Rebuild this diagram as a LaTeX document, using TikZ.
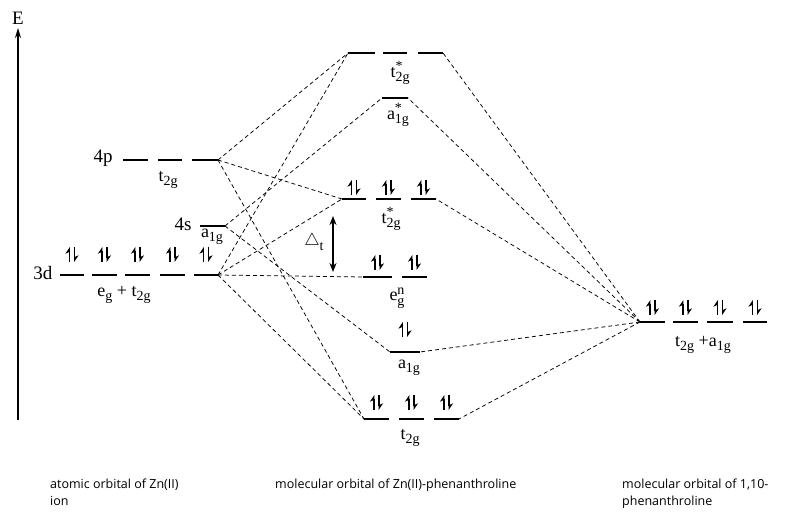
\documentclass[tikz,border=0pt]{standalone}
\usepackage{fontspec}
\setmainfont{Liberation Serif}
\newfontfamily\captionfont{Open Sans}
\usetikzlibrary{arrows.meta}
\newcommand\orbsub[1]{\raisebox{-0.55ex}{\fontsize{14}{14}\selectfont #1}}
\newcommand\orbsup[1]{\raisebox{0.8ex}{\fontsize{14}{14}\selectfont #1}}
\tikzset{
  level/.style={line width=1.2pt},
  link/.style={dash pattern=on 4pt off 3pt, line width=0.75pt},
  spin/.style={line width=1.3pt, -{Stealth[harpoon,length=6pt,width=8pt]}},
  pics/spinpair/.style={code={
    \draw[spin] (-2.6,0) -- (-2.6,-15);
    \draw[spin] (2.6,-15) -- (2.6,0);}},
  lbl/.style={inner sep=0pt, font=\fontsize{19}{19}\selectfont},
  orb/.style={inner sep=0pt, font=\fontsize{18}{18}\selectfont},
  caption/.style={inner sep=0pt, anchor=north west, align=left,
    font=\captionfont\fontsize{12.5}{17}\selectfont},
}
\begin{document}
\begin{tikzpicture}[x=1pt,y=-1pt]
\useasboundingbox (0,0) rectangle (788,513);

% energy axis
\node[lbl] (E) at (18,18) {E};
\coordinate (axbot) at (18,420);
\coordinate (axtop) at (18,28);
\draw[line width=1.5pt, -{Stealth[length=10pt,width=6pt]}] (axbot) -- (axtop);

% ---- Zn(II) atomic orbitals ----
% 4p
\coordinate (p4a) at (123,160); \coordinate (p4b) at (148,160);
\coordinate (p4c) at (158,160); \coordinate (p4d) at (182,160);
\coordinate (p4e) at (192,160); \coordinate (p4R) at (218,160);
\draw[level] (p4a) -- (p4b) (p4c) -- (p4d) (p4e) -- (p4R);
\node[lbl] (l4p) at (103,158) {4p};
\node[orb] (t2gp) at (168,180) {t\orbsub{2g}};
% 4s
\coordinate (s4L) at (200,226); \coordinate (s4R) at (225,226);
\draw[level] (s4L) -- (s4R);
\node[lbl] (l4s) at (183,224) {4s};
\node[orb] (a1gs) at (212,237) {a\orbsub{1g}};
% 3d
\coordinate (d1a) at (60,275);  \coordinate (d1b) at (84,275);
\coordinate (d2a) at (92,275);  \coordinate (d2b) at (117,275);
\coordinate (d3a) at (125,275); \coordinate (d3b) at (150,275);
\coordinate (d4a) at (160,275); \coordinate (d4b) at (185,275);
\coordinate (d5a) at (194,275); \coordinate (d3R) at (218,275);
\draw[level] (d1a) -- (d1b) (d2a) -- (d2b) (d3a) -- (d3b) (d4a) -- (d4b) (d5a) -- (d3R);
\foreach \x in {72,104.5,137.5,172.5,206} \pic at (\x,262) {spinpair};
\node[lbl] (l3d) at (43,273) {3d};
\node[orb] (egt2g) at (124,295) {e\orbsub{g} + t\orbsub{2g}};

% ---- Zn(II)-phenanthroline molecular orbitals ----
% t2g* (top)
\coordinate (tsL) at (348,53);  \coordinate (tsb) at (375,53);
\coordinate (tsc) at (383,53);  \coordinate (tsd) at (407,53);
\coordinate (tse) at (418,53);  \coordinate (tsR) at (443,53);
\draw[level] (tsL) -- (tsb) (tsc) -- (tsd) (tse) -- (tsR);
\node[orb] (ltsa) at (400,73) {t\rlap{\orbsup{*}}\orbsub{2g}};
% a1g*
\coordinate (asL) at (382,98); \coordinate (asR) at (408,98);
\draw[level] (asL) -- (asR);
\node[orb] (lasa) at (398,115) {a\rlap{\orbsup{*}}\orbsub{1g}};
% t2g* (middle)
\coordinate (tmL) at (342,199); \coordinate (tmb) at (366,199);
\coordinate (tmc) at (376,199); \coordinate (tmd) at (401,199);
\coordinate (tme) at (411,199); \coordinate (tmR) at (436,199);
\draw[level] (tmL) -- (tmb) (tmc) -- (tmd) (tme) -- (tmR);
\foreach \x in {354,388.5,423.5} \pic at (\x,195) {spinpair};
\node[orb] (ltm) at (391,219) {t\rlap{\orbsup{*}}\orbsub{2g}};
% splitting
\coordinate (dtop) at (333,216); \coordinate (dbot) at (333,272);
\draw[line width=1.5pt, {Stealth[length=9pt,width=7pt]}-{Stealth[length=9pt,width=7pt]}] (dtop) -- (dbot);
\node[inner sep=0pt, font=\fontsize{18}{18}\selectfont] (delta) at (314,242) {$\triangle$\orbsub{t}};
% eg^n
\coordinate (egL) at (363,277); \coordinate (egb) at (392,277);
\coordinate (egc) at (402,277); \coordinate (egR) at (427,277);
\draw[level] (egL) -- (egb) (egc) -- (egR);
\foreach \x in {377.5,414.5} \pic at (\x,270) {spinpair};
\node[orb] (leg) at (397,298) {e\rlap{\orbsup{n}}\orbsub{g}};
% a1g
\coordinate (aL) at (390,352); \coordinate (aR) at (420,352);
\draw[level] (aL) -- (aR);
\pic at (405,337) {spinpair};
\node[orb] (la) at (409,368) {a\orbsub{1g}};
% t2g (bottom)
\coordinate (tbL) at (364,419); \coordinate (tbb) at (389,419);
\coordinate (tbc) at (399,419); \coordinate (tbd) at (424,419);
\coordinate (tbe) at (434,419); \coordinate (tbR) at (459,419);
\draw[level] (tbL) -- (tbb) (tbc) -- (tbd) (tbe) -- (tbR);
\foreach \x in {376.5,411.5,446.5} \pic at (\x,410) {spinpair};
\node[orb] (ltb) at (410,438) {t\orbsub{2g}};

% ---- 1,10-phenanthroline orbitals ----
\coordinate (rL) at (640,322); \coordinate (rb) at (665,322);
\coordinate (rc) at (673,322); \coordinate (rd) at (698,322);
\coordinate (re) at (707,322); \coordinate (rf) at (733,322);
\coordinate (rg) at (743,322); \coordinate (rR) at (767,322);
\draw[level] (rL) -- (rb) (rc) -- (rd) (re) -- (rf) (rg) -- (rR);
\foreach \x in {652.5,685.5,720,755} \pic at (\x,315) {spinpair};
\node[orb] (lr) at (703,345) {t\orbsub{2g} +a\orbsub{1g}};

% ---- correlation lines ----
\draw[link] (p4R) -- (tsL);
\draw[link] (p4R) -- (tmL);
\draw[link] (p4R) -- (tbL);
\draw[link] (s4R) -- (asL);
\draw[link] (s4R) -- (aL);
\draw[link] (d3R) -- (tsL);
\draw[link] (d3R) -- (tmL);
\draw[link] (d3R) -- (egL);
\draw[link] (d3R) -- (tbL);
\draw[link] (rL) -- (tsR);
\draw[link] (rL) -- (asR);
\draw[link] (rL) -- (tmR);
\draw[link] (rL) -- (aR);
\draw[link] (rL) -- (tbR);

% ---- captions ----
\node[caption] (c1) at (50,479) {atomic orbital of Zn(II)\\ion};
\node[caption] (c2) at (275,479) {molecular orbital of Zn(II)-phenanthroline};
\node[caption] (c3) at (622,479) {molecular orbital of 1,10-\\phenanthroline};
\end{tikzpicture}
\end{document}
